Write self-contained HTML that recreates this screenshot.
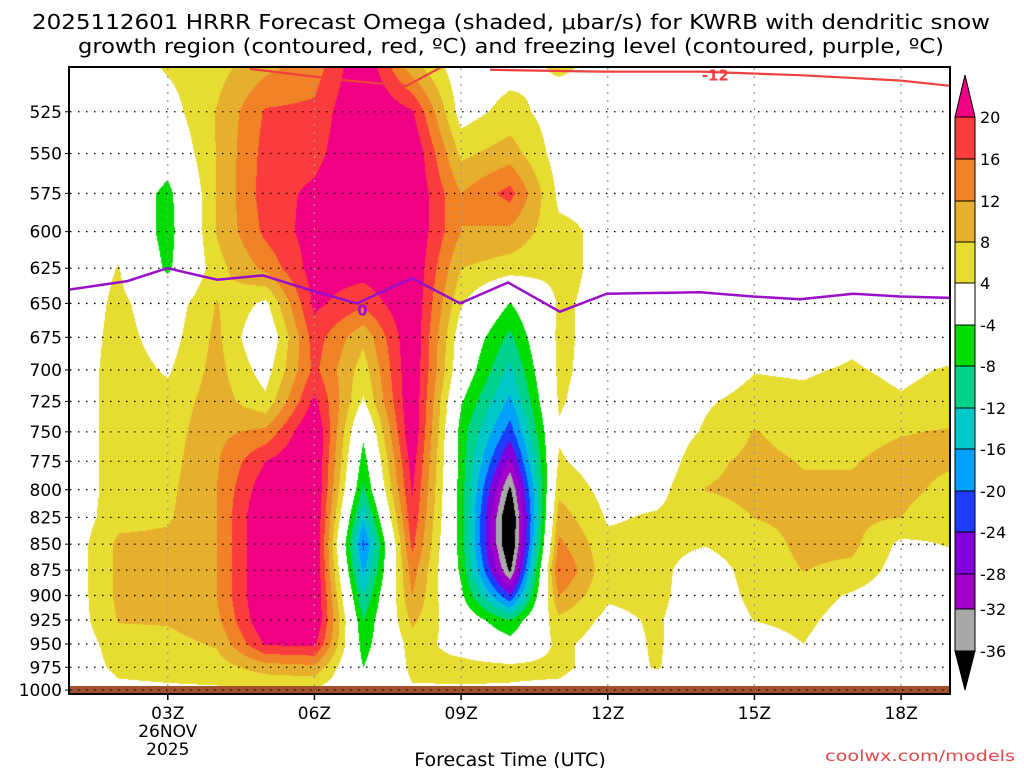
<!DOCTYPE html>
<html><head><meta charset="utf-8"><style>
html,body{margin:0;padding:0;background:#fff;}
#wrap{position:relative;width:1024px;height:768px;overflow:hidden;font-family:"DejaVu Sans","Liberation Sans",sans-serif;}
#field{position:absolute;left:70px;top:68px;}
#ov{position:absolute;left:0;top:0;}
</style></head><body>
<div id="wrap">
<canvas id="field" width="880" height="622"></canvas>
<svg id="ov" width="1024" height="768"></svg>
</div>
<script>
const times=[1,2,3,4,5,6,7,8,9,10,11,12,13,14,15,16,17,18,19];
const pressures=[500,525,550,575,600,625,650,675,700,725,750,775,800,825,850,875,900,925,950,975,1000];
const omega=[
[1,1,1,1,1,1,1,1,1,1,1,1,1,1,1,1,1,1,1,1,0],
[1,1,1,1,2,4.2,5,5.5,6,6,6,6,6,6.5,9,9,9,8.3,6,5,3],
[4.5,2,-1,-5.5,-6,-5,1,2,3.5,5.5,6,6.5,7,7.5,9,9.5,9.5,8.5,6.5,5.5,3.3],
[6.5,8.2,8.2,8.2,8.2,6.5,8.2,9,9.5,10,11,11.5,12,12,12,12,12,11,8.5,6,3.5],
[11,16.5,17.5,18,17,13,3,-1,2,5,13,20,23,25,25,25,25,24,20.5,10,3.5],
[14,17,18.5,21,22,22,21,18,17,21,25,25,25,25,25,25,25,25,21,11,3.5],
[24,25,25,25,25,22,17,9,6,3.5,-3,-6,-9,-15,-21,-17,-12,-8,-6,-4,-1],
[10,20.5,24,24,24,24,24,24,24,24,24,22,20.5,19,17,14,12,9,6,5,3.5],
[1,2,7,12,12,8,4.5,1,0,-3.5,-6,-6,-6,-6,-6,-5,-3,0,2,5.5,3.5],
[2.5,5.5,10,17.5,11,6,-4.2,-9,-13,-17,-22,-29,-37,-42,-42,-37,-24,-8,-2,5,3.5],
[4.5,2,2,3,5,5,4.5,5,5,4.5,3.5,4.5,7,10,13,16.5,12,7,5,5,3],
[3,3,3,3,3,3,3,2,1.5,1,1,1.5,2.5,3.5,5,5,4.5,3,2,2,1],
[1,1,1,1,1,1,1,1,1,1,1,1,2.5,4.5,5,5,5,4.5,4.5,4.3,1],
[1,1,1,1,1,1,1,1,1,3.5,4.5,7,8.1,6,4.2,2,1.5,1,1,1,1],
[1,1,1,1,1,1,1,1,3.8,5.5,8.2,9,9,8.1,6,5.5,5,4.1,2,1,1],
[1,1,1,1,1,1,1,1,3.5,5,6.5,7.8,8.5,9,9,8.1,6,5,4,2,1],
[1,1,1,1,1,1,1,3,4.5,6,7,7.8,8.5,9,9,7,3.5,2,1,1,1],
[1,1,1,1,1,1,1,1,3,4.5,7.8,9,9,8,3,2,1,1,1,1,1],
[1,1,1,1,1,1,1,1,4.5,6,8.3,8.5,7,5.5,4.3,2,1,1,1,1,1]
];
const frzTimes=[1,2.17,2.99,4.01,4.95,5.97,6.87,7.99,8.98,9.96,11.02,11.98,13.88,14.97,15.93,17.02,17.98,19];
const frzPres=[640,634,625,633,630,641,650,632,650,635,656,643,642,645,647,643,645,646];
const dgzTimesA=[4.68,6.66,7.89,8.63];
const dgzPresA=[500.5,507,510,499];
const dgzTimesB=[9.59,11.84,13.88,15.93,16.95,17.97,19];
const dgzPresB=[501,502,502,504,505.5,507,510];
const levels=[-36,-32,-28,-24,-20,-16,-12,-8,-4,4,8,12,16,20];
const levelColors=['#000000','#a8a8a8','#a000c8','#8200dc','#1e3cff','#00a0ff','#00c8c8','#00d28c','#00dc00','#ffffff','#e6dc32','#e6af2d','#f08228','#fa3c3c','#f00082'];
const yTicks=[525,550,575,600,625,650,675,700,725,750,775,800,825,850,875,900,925,950,975,1000];
const xTicks=[3,6,9,12,15,18];
const xTickLabels=['03Z','06Z','09Z','12Z','15Z','18Z'];
const cbLabels=['20','16','12','8','4','-4','-8','-12','-16','-20','-24','-28','-32','-36'];

const X0=70,X1=950,Y0=68,Y1=690;
const K=(Y1-Y0)/Math.log(1000/500);
function xs(t){return X0+(t-1)*(X1-X0)/18;}
function ys(p){return Y1-Math.log(1000/p)*K;}
function hex(c){return [parseInt(c.substr(1,2),16),parseInt(c.substr(3,2),16),parseInt(c.substr(5,2),16)];}

(function(){
 const cv=document.getElementById('field');const ctx=cv.getContext('2d');
 const W=cv.width,H=cv.height;const img=ctx.createImageData(W,H);
 const rgb=levelColors.map(hex);
 for(let j=0;j<H;j++){
  const py=Y0+j+0.5;const p=1000*Math.exp(-(Y1-py)/K);
  let ri=(p-pressures[0])/25;ri=Math.max(0,Math.min(pressures.length-1.0001,ri));
  const r0=Math.floor(ri),fr=ri-r0;
  for(let i=0;i<W;i++){
   const px=X0+i+0.5;let ti=(px-X0)/((X1-X0)/18);ti=Math.max(0,Math.min(times.length-1.0001,ti));
   const c0=Math.floor(ti),fc=ti-c0;
   const v=(omega[c0][r0]*(1-fc)+omega[c0+1][r0]*fc)*(1-fr)+(omega[c0][r0+1]*(1-fc)+omega[c0+1][r0+1]*fc)*fr;
   let k=0;while(k<levels.length&&v>=levels[k])k++;
   const c=rgb[k];const o=(j*W+i)*4;img.data[o]=c[0];img.data[o+1]=c[1];img.data[o+2]=c[2];img.data[o+3]=255;
  }
 }
 ctx.putImageData(img,0,0);
})();

const NS='http://www.w3.org/2000/svg';
const svg=document.getElementById('ov');
function mk(tag,attrs,parent){const e=document.createElementNS(NS,tag);for(const k in attrs)e.setAttribute(k,attrs[k]);(parent||svg).appendChild(e);return e;}
const defs=mk('defs',{});
const cp=mk('clipPath',{id:'plotclip'},defs);mk('rect',{x:X0,y:Y0,width:X1-X0,height:Y1-Y0+3},cp);

const ground=mk('rect',{x:X0,y:686,width:X1-X0,height:7,fill:'#a0522d'});



const grid=mk('g',{});


yTicks.forEach(p=>{
 const l=mk('line',{x1:X0,x2:X1,y1:ys(p),y2:ys(p),stroke:'#000','stroke-width':1.3,'stroke-dasharray':'1.5 6.5'},grid);
 
 
});
xTicks.forEach(t=>{
 const l=mk('line',{x1:xs(t),x2:xs(t),y1:Y0,y2:Y1,stroke:'#999','stroke-width':1.3,'stroke-dasharray':'2 6'},grid);
 
 
});

function pathFrom(ts,ps){return ts.map((t,i)=>(i?'L':'M')+xs(t).toFixed(1)+' '+ys(ps[i]).toFixed(1)).join(' ');}
const lines=mk('g',{'clip-path':'url(#plotclip)'});
const dA=mk('path',{d:pathFrom(dgzTimesA,dgzPresA),fill:'none',stroke:'#f04040','stroke-width':2.2},lines);


const dB=mk('path',{d:pathFrom(dgzTimesB,dgzPresB),fill:'none',stroke:'#f04040','stroke-width':2.2},lines);


const dl=mk('text',{x:xs(14.2),y:ys(502)+9,fill:'#f04040','font-size':15,'font-weight':'bold','text-anchor':'middle'},lines);
dl.textContent='-12';


const fz=mk('path',{d:pathFrom(frzTimes,frzPres),fill:'none',stroke:'#9a10c8','stroke-width':2.5},lines);


const fl=mk('text',{x:xs(6.98),y:ys(650)+12,fill:'#9a10c8','font-size':15,'font-weight':'bold','text-anchor':'middle'},lines);
fl.textContent='0';



const fr=mk('rect',{x:X0-1,y:Y0-1,width:X1-X0+1,height:693-Y0+2,fill:'none',stroke:'#000','stroke-width':2});



const yl=mk('g',{'font-size':17,fill:'#000','text-anchor':'end'});


yTicks.forEach(p=>{
 const t=mk('text',{x:62,y:ys(p)+6},yl);t.textContent=String(p);
 
 
 mk('line',{x1:X0-5,x2:X0,y1:ys(p),y2:ys(p),stroke:'#000','stroke-width':1},yl);
});
const xl=mk('g',{'font-size':17,fill:'#000','text-anchor':'middle'});


xTicks.forEach((t,i)=>{
 mk('line',{x1:xs(t),x2:xs(t),y1:693,y2:700,stroke:'#000','stroke-width':1.5},xl);
 const tx=mk('text',{x:xs(t),y:719},xl);tx.textContent=xTickLabels[i];
 
 
});
const d1=mk('text',{x:xs(3),y:737},xl);d1.textContent='26NOV';


const d2=mk('text',{x:xs(3),y:755},xl);d2.textContent='2025';



const CBY=[117,159,201,242,283,325,366,408,449,491,532,574,609,651];
const cb=mk('g',{});


const cx0=955,cw=20;
mk('path',{d:`M${cx0} ${CBY[0]} L${cx0+cw/2} 75 L${cx0+cw} ${CBY[0]} Z`,fill:levelColors[14],stroke:'#000','stroke-width':1},cb);
for(let i=0;i<CBY.length-1;i++){
 const r=mk('rect',{x:cx0,y:CBY[i],width:cw,height:CBY[i+1]-CBY[i],fill:levelColors[13-i],stroke:'#000','stroke-width':1},cb);
 
 
}
mk('path',{d:`M${cx0} ${CBY[13]} L${cx0+cw/2} 690 L${cx0+cw} ${CBY[13]} Z`,fill:levelColors[0],stroke:'#000','stroke-width':1},cb);
cbLabels.forEach((s,i)=>{
 const t=mk('text',{x:980,y:CBY[i]+6,'font-size':16,fill:'#000'},cb);t.textContent=s;
 
 
});

const t1=mk('text',{x:511,y:29,'font-size':20,'text-anchor':'middle',textLength:958,lengthAdjust:'spacingAndGlyphs'});
t1.textContent='2025112601 HRRR Forecast Omega (shaded, \u03bcbar/s) for KWRB with dendritic snow';


const t2=mk('text',{x:511,y:53,'font-size':20,'text-anchor':'middle',textLength:866,lengthAdjust:'spacingAndGlyphs'});
t2.textContent='growth region (contoured, red, \u00baC) and freezing level (contoured, purple, \u00baC)';


const xt=mk('text',{x:510,y:766,'font-size':19,'text-anchor':'middle'});
xt.textContent='Forecast Time (UTC)';


const cr=mk('text',{x:1015,y:761,'font-size':15,'text-anchor':'end',fill:'#e04848',textLength:190,lengthAdjust:'spacingAndGlyphs'});
cr.textContent='coolwx.com/models';


</script>
</body></html>
